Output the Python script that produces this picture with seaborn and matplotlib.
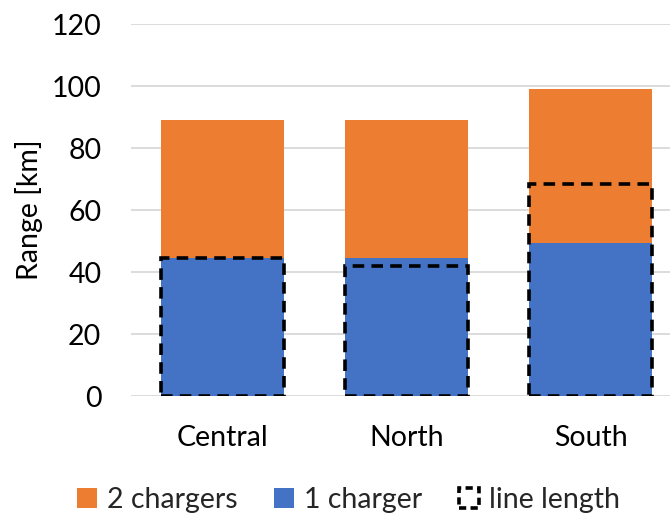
import matplotlib
matplotlib.use("Agg")
import matplotlib.pyplot as plt
from matplotlib.patches import Patch
import seaborn as sns
import pandas as pd

regions = ["Central", "North", "South"]
one_charger = [44.5, 44.5, 49.5]
two_chargers_total = [89, 89, 99]
line_length = [44.5, 42, 68.5]
y_ticks = [0, 20, 40, 60, 80, 100, 120]

ORANGE = "#ED7D31"
BLUE = "#4472C4"
GRID = "#D9D9D9"
DASH = (0, (3.2, 2.0))
FS = 20.5

sns.set_theme(style="white")
plt.rcParams["font.family"] = ["Lato", "DejaVu Sans"]

df = pd.DataFrame({
    "region": regions,
    "one": one_charger,
    "two": two_chargers_total,
    "line": line_length,
})

fig = plt.figure(figsize=(6.7, 5.15), dpi=100)
ax = fig.add_axes([0.1948, 0.231, 0.824, 0.722])

ax.set_axisbelow(True)
ax.yaxis.grid(True, color=GRID, linewidth=1.3)

sns.barplot(data=df, x="region", y="two", color=ORANGE, saturation=1,
            width=0.665, ax=ax, linewidth=0)
sns.barplot(data=df, x="region", y="one", color=BLUE, saturation=1,
            width=0.665, ax=ax, linewidth=0)
sns.barplot(data=df, x="region", y="line", width=0.665, ax=ax,
            facecolor="none", edgecolor="black", linewidth=2.6,
            linestyle=DASH)

ax.set_xlim(-0.5, 2.5)
ax.set_ylim(0, 120)
ax.set_yticks(y_ticks)
ax.set_yticklabels([str(t) for t in y_ticks])
for s in ax.spines.values():
    s.set_visible(False)
ax.tick_params(axis="y", length=0, pad=21, labelsize=FS, colors="black")
ax.tick_params(axis="x", length=0, pad=21, labelsize=FS, colors="black")
ax.set_xlabel("")
ax.set_ylabel("Range [km]", fontsize=FS, color="black", labelpad=6)

handles = [
    Patch(facecolor=ORANGE, edgecolor="none", label="2 chargers"),
    Patch(facecolor=BLUE, edgecolor="none", label="1 charger"),
    Patch(facecolor="none", edgecolor="black", linewidth=2.6,
          linestyle=(0, (2.0, 1.2)), label="line length"),
]
fig.legend(handles=handles, loc="center", bbox_to_anchor=(0.52, 0.03),
           ncol=3, frameon=False, fontsize=FS, handlelength=0.7,
           handleheight=0.7, handletextpad=0.35, columnspacing=1.3)

fig.savefig("out.png", dpi=100)
